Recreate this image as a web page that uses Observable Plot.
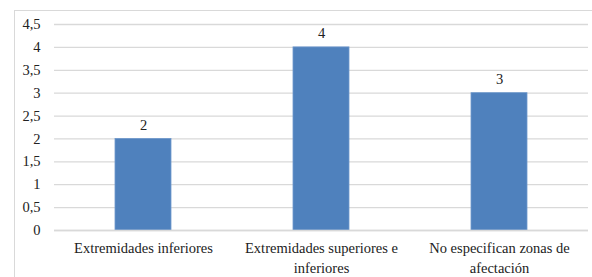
<!DOCTYPE html>
<html>
<head>
<meta charset="utf-8">
<script src="https://cdn.jsdelivr.net/npm/d3@7"></script>
<script src="https://cdn.jsdelivr.net/npm/@observablehq/plot@0.6"></script>
<style>
  html, body { margin: 0; padding: 0; background: #fff; }
  #wrap { position: relative; width: 592px; height: 277px; overflow: hidden; }
  #border { position: absolute; left: 14px; top: 10px; width: 600px; height: 300px; border: 1px solid #d9d9d9; box-sizing: border-box; }
  #chart { position: absolute; left: 0; top: 0; }
  #chart svg, #chart svg text { font-family: "Liberation Serif", "DejaVu Serif", serif !important; }
</style>
</head>
<body>
<div id="wrap"><div id="border"></div><div id="chart"></div></div>
<script>
const categories = ["Extremidades inferiores", "Extremidades superiores e inferiores", "No especifican zonas de afectación"];
const tickLabels = ["Extremidades inferiores", "Extremidades superiores e\ninferiores", "No especifican zonas de\nafectación"];
const values = [2, 4, 3];
const yTicks = [0, 0.5, 1, 1.5, 2, 2.5, 3, 3.5, 4, 4.5];

const data = categories.map((c, i) => ({category: c, value: values[i]}));
const fmt = d => String(d).replace(".", ",");
const FONT = "Liberation Serif";
const FS = 14.5;

const chart = Plot.plot({
  width: 592,
  height: 277,
  marginLeft: 54,
  marginRight: 4,
  marginTop: 24,
  marginBottom: 47,
  style: {fontSize: FS + "px", fontFamily: FONT, color: "#222", background: "transparent"},
  x: {domain: categories, paddingInner: 0.685, paddingOuter: 0.3425, label: null},
  y: {domain: [0, 4.5], label: null},
  marks: [
    Plot.gridY(yTicks, {stroke: "#d9d9d9", strokeOpacity: 1, strokeWidth: 1.3}),
    Plot.axisY(yTicks, {tickSize: 0, tickPadding: 14, tickFormat: fmt, fontSize: FS, fontFamily: FONT, fill: "#222"}),
    Plot.axisX({tickSize: 0, tickPadding: 8, tickFormat: d => tickLabels[categories.indexOf(d)], fontSize: FS, fontFamily: FONT, fill: "#222", lineHeight: 1.38}),
    Plot.barY(data, {x: "category", y: "value", fill: "#4F81BD", stroke: "#6f98cc", strokeWidth: 0.8}),
    Plot.ruleY([0], {stroke: "#d9d9d9", strokeWidth: 1.3}),
    Plot.text(data, {x: "category", y: "value", text: d => fmt(d.value), dy: -9, lineAnchor: "bottom", fontSize: FS, fontFamily: FONT, fill: "#222"})
  ]
});
document.getElementById("chart").appendChild(chart);
</script>
</body>
</html>
